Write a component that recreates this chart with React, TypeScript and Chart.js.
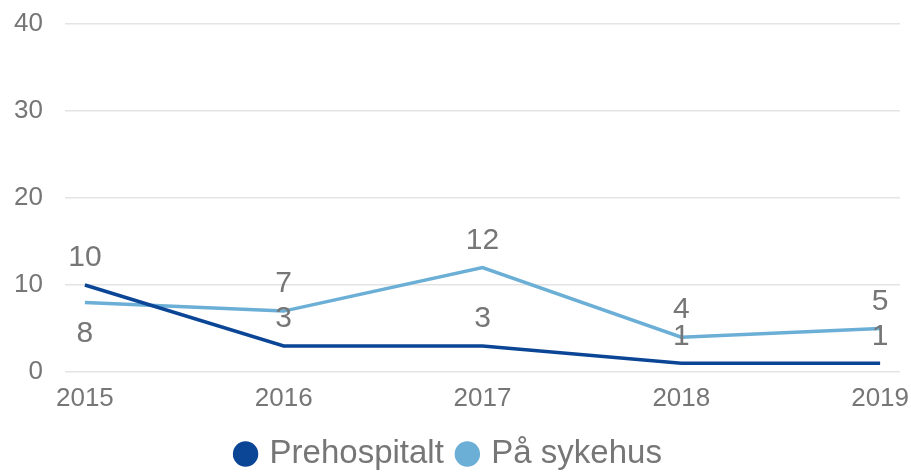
import React, { useEffect, useRef } from "react";
import { Chart, registerables } from "chart.js";

Chart.register(...registerables);

const years = [2015, 2016, 2017, 2018, 2019];
const prehospitalt = [10, 3, 3, 1, 1];
const paSykehus = [8, 7, 12, 4, 5];
const yTicks = [0, 10, 20, 30, 40];

const GRAY = "#767676";
const DARK = "#0b4596";
const LIGHT = "#6baed6";
const FONT = "'Liberation Sans', Arial, sans-serif";

const valueLabels = {
  id: "valueLabels",
  afterDatasetsDraw(chart: any) {
    const ctx = chart.ctx;
    ctx.save();
    ctx.font = `30px ${FONT}`;
    ctx.fillStyle = GRAY;
    ctx.textAlign = "center";
    ctx.textBaseline = "middle";
    chart.data.datasets.forEach((ds: any, di: number) => {
      const meta = chart.getDatasetMeta(di);
      meta.data.forEach((pt: any, i: number) => {
        const below = (ds.labelBelow || [])[i];
        const v = ds.data[i].y;
        const y = below ? pt.y + 31 : pt.y - 27;
        ctx.fillText(String(v), pt.x, y);
      });
    });
    ctx.restore();
  },
};

export default function App() {
  const ref = useRef<HTMLCanvasElement>(null);
  useEffect(() => {
    document.body.style.margin = "0";
    const chart = new Chart(ref.current!, {
      type: "line",
      data: {
        datasets: [
          {
            label: "Prehospitalt",
            data: years.map((x, i) => ({ x, y: prehospitalt[i] })),
            borderColor: DARK,
            backgroundColor: DARK,
            borderWidth: 3.5,
            pointRadius: 0,
            tension: 0,
            labelBelow: [false, false, false, false, false],
          } as any,
          {
            label: "På sykehus",
            data: years.map((x, i) => ({ x, y: paSykehus[i] })),
            borderColor: LIGHT,
            backgroundColor: LIGHT,
            borderWidth: 3.5,
            pointRadius: 0,
            tension: 0,
            labelBelow: [true, false, false, false, false],
          } as any,
        ],
      },
      options: {
        animation: false,
        responsive: true,
        maintainAspectRatio: false,
        layout: { padding: { top: 24, right: 11, left: 0, bottom: -5.5 } },
        scales: {
          x: {
            type: "linear",
            min: years[0] - 0.1,
            max: years[years.length - 1] + 0.1,
            afterBuildTicks: (scale: any) => {
              scale.ticks = years.map((v) => ({ value: v }));
            },
            afterFit: (scale: any) => {
              scale.height = 49.5;
              scale.paddingLeft = 0;
              scale.paddingRight = 0;
            },
            grid: { display: false, drawTicks: false },
            border: { display: false },
            ticks: {
              color: GRAY,
              font: { family: FONT, size: 26 },
              padding: 11,
              maxRotation: 0,
              callback: (v: any) => String(v),
            },
          },
          y: {
            min: 0,
            max: 40,
            afterBuildTicks: (scale: any) => {
              scale.ticks = yTicks.map((v) => ({ value: v }));
            },
            afterFit: (scale: any) => {
              scale.width = 65;
              scale.paddingTop = 10;
              scale.paddingBottom = 10;
            },
            grid: { color: "#e4e4e4", lineWidth: 1.5, drawTicks: false },
            border: { display: false },
            ticks: {
              color: GRAY,
              font: { family: FONT, size: 26 },
              padding: 22,
            },
          },
        },
        plugins: {
          legend: {
            position: "bottom",
            labels: {
              usePointStyle: true,
              pointStyle: "circle",
              boxWidth: 15,
              boxHeight: 15.5,
              color: GRAY,
              font: { family: FONT, size: 33 },
              padding: 16,
            },
          },
          tooltip: { enabled: false },
        },
      },
      plugins: [valueLabels],
    } as any);
    return () => chart.destroy();
  }, []);
  return (
    <div style={{ position: "absolute", left: 0, top: 0, width: 911, height: 475 }}>
      <canvas ref={ref} />
    </div>
  );
}
